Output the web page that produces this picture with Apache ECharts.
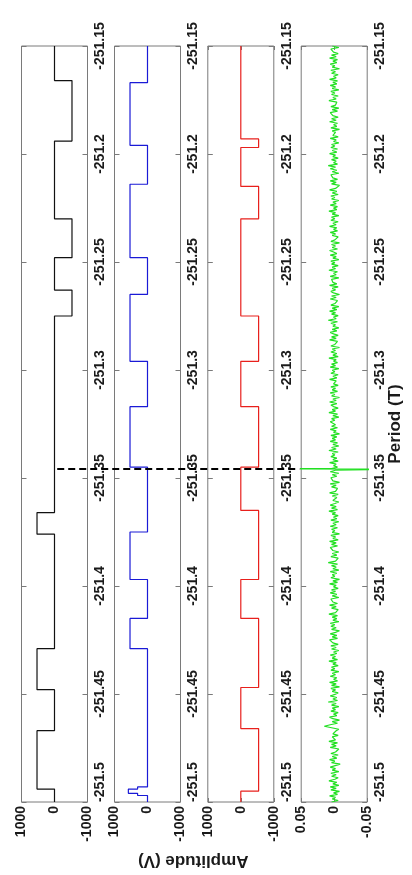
<!DOCTYPE html>
<html><head><meta charset="utf-8">
<script src="https://cdn.jsdelivr.net/npm/echarts@6/dist/echarts.min.js"></script>
<style>html,body{margin:0;padding:0;background:#fff}#c{width:412px;height:875px}</style>
</head><body><div id="c"></div>
<script>
// ---- data (Period in T, amplitude in V) ----
// step traces: level changes at these periods, amplitude held between them
const blackBreaks = [-251.15,-251.166,-251.194,-251.230,-251.248,-251.263,-251.275,-251.366,-251.376,-251.429,-251.448,-251.467,-251.494,-251.5];
const blackLevels = [0,-530,0,-530,0,-530,0,530,0,530,0,530,0];

const blueBreaks = [-251.15,-251.167,-251.196,-251.214,-251.248,-251.265,-251.296,-251.317,-251.345,-251.375,-251.397,-251.415,-251.429,-251.493,-251.494,-251.496,-251.497,-251.5];
const blueLevels = [0,530,0,530,0,530,0,530,0,530,0,530,0,300,580,300,0];

const redBreaks = [-251.15,-251.193,-251.197,-251.215,-251.230,-251.275,-251.296,-251.317,-251.345,-251.365,-251.397,-251.415,-251.447,-251.466,-251.495,-251.5];
const redLevels = [0,-540,0,-540,0,-540,0,-540,0,-540,0,-540,0,-540,0];

// difference trace (V), sampled evenly from -251.5 to -251.15
const greenNoise = [
0.004,-0.006,0.003,-0.002,0.007,-0.005,0.001,-0.008,0.005,-0.003,0.006,-0.007,0.002,-0.004,0.008,-0.001,-0.006,0.004,-0.003,0.005,-0.007,0.003,-0.002,0.006,0.004,
-0.009,0.004,-0.001,0.007,-0.004,0.003,-0.006,0.005,-0.002,0.001,-0.007,0.006,-0.003,0.004,-0.005,0.008,-0.002,-0.004,0.003,-0.006,0.002,0.005,-0.003,-0.007,0.004,
0.015,0.006,-0.005,0.003,-0.008,0.002,0.007,-0.004,0.001,-0.006,0.005,-0.002,0.003,-0.007,0.004,-0.003,0.009,-0.005,0.002,-0.004,0.006,-0.001,-0.006,0.003,-0.002,
0.005,-0.008,0.004,-0.003,0.007,-0.005,0.001,-0.004,0.006,-0.002,0.003,-0.007,0.005,-0.001,0.004,-0.006,0.002,-0.003,0.008,-0.005,0.003,-0.002,0.006,-0.004,0.001,
-0.007,0.004,-0.003,0.005,-0.006,0.002,-0.001,0.007,-0.005,0.003,-0.004,0.006,-0.002,-0.008,0.004,-0.003,0.005,-0.001,0.006,-0.007,0.002,-0.004,0.003,-0.005,0.008,
-0.002,0.001,-0.006,0.004,-0.003,0.007,-0.005,0.002,-0.001,0.005,-0.007,0.003,-0.004,0.006,-0.002,0.004,-0.006,0.001,-0.003,0.007,-0.005,0.002,-0.008,0.005,-0.001,
0.003,-0.004,0.006,-0.007,0.002,-0.003,0.004,-0.005,0.009,-0.002,0.001,-0.006,0.005,-0.004,0.003,-0.007,0.002,-0.001,0.006,-0.005,0.004,-0.003,0.007,-0.006,0.002,
-0.002,0.005,-0.008,0.003,-0.001,0.004,-0.005,0.006,-0.003,0.002,-0.007,0.005,-0.004,0.001,-0.006,0.003,-0.002,0.008,-0.005,0.004,-0.003,0.006,-0.001,-0.007,0.002,
0.005,-0.004,0.003,-0.006,0.007,-0.002,0.001,-0.005,0.004,-0.003,0.006,-0.008,0.002,-0.001,0.005,-0.004,0.003,-0.007,0.006,-0.002,0.004,-0.005,0.001,-0.003,0.007,
-0.006,0.002,-0.004,0.005,-0.001,0.003,-0.006,0.008,-0.003,0.004,-0.007,0.002,-0.005,0.006,-0.002,0.003,-0.004,0.005,-0.008,0.001,-0.003,0.006,-0.005,0.004,-0.002,
-0.003,0.006,-0.001,0.004,-0.007,0.002,-0.005,0.008,-0.002,0.003,-0.006,0.001,0.005,-0.004,0.007,-0.003,0.002,-0.008,0.004,-0.001,0.006,-0.005,0.003,-0.002,0.005,
-0.006,0.001,0.004,-0.003,0.007,-0.004,0.002,-0.006,0.005,-0.001,0.003,-0.007,0.006,-0.002,0.004,-0.005,0.001,-0.003,0.008,-0.006,0.002,-0.004,0.005,-0.002,0.003,
-0.008,0.005,-0.001,0.002,-0.005,0.007,-0.003,0.004,-0.006,0.001,0.006,-0.004,0.003,-0.007,0.002,-0.002,0.005,-0.005,0.009,-0.003,0.001,-0.006,0.004,-0.002,0.007,
-0.004,0.003,-0.007,0.005,-0.001,0.002,-0.005,0.006,-0.003,0.004,-0.008,0.001,0.005,-0.002,0.003,-0.006,0.007,-0.004,0.002,-0.001,0.004,-0.007,0.006,-0.003,0.001,
-0.005,0.008,-0.002,0.003,-0.006,0.004,-0.001,0.005,-0.007,0.002,-0.003,0.006,-0.004,0.001,0.007,-0.005,0.003,-0.002,0.004,-0.008,0.005,-0.001,0.002,-0.006,0.003,
-0.002,0.006,-0.005,0.001,-0.004,0.007,-0.003,0.002,-0.006,0.005,-0.001,0.004,-0.007,0.003,-0.002,0.008,-0.004,0.001,-0.005,0.006,-0.003,0.002,-0.007,0.004,-0.001,
0.005,-0.006,0.003,-0.004,0.007,-0.002,0.001,-0.008,0.004,-0.003,0.006,-0.005,0.002,-0.001,0.005,-0.007,0.003,-0.004,0.006,-0.002,0.009,-0.005,0.001,-0.003,0.004,
-0.006,0.002,-0.002,0.007,-0.004,0.003,-0.005,0.005,-0.001,0.004,-0.007,0.001,-0.003,0.006,-0.006,0.002,0.004,-0.002,0.003,-0.008,0.005,-0.004,0.001,-0.005,0.007,
-0.003,0.004,-0.006,0.002,-0.001,0.006,-0.005,0.003,-0.007,0.005,-0.002,0.001,-0.004,0.008,-0.003,0.002,-0.006,0.004,-0.001,0.005,-0.007,0.003,-0.002,0.006,-0.004,
0.002,-0.005,0.007,-0.003,0.001,-0.006,0.004,-0.002,0.005,-0.008,0.003,-0.001,0.006,-0.004,0.002,-0.005,0.007,-0.003,0.004,-0.006,0.001,-0.002,0.005,-0.007,0.003];
const greenSpikePeriod = [-251.3457,-251.3459];
const greenSpikeAmp = [0.09,-0.09];

const markerPeriod = -251.3458;           // dashed marker line
const markerSpan = [0.104, 0.809];        // fraction of the figure width it covers

const periodMin = -251.5, periodMax = -251.15, periodStep = 0.05;
const ampRanges = [[-1000,1000,1000],[-1000,1000,1000],[-1000,1000,1000],[-0.05,0.05,0.05]];
const colors = ['#111111','#1a1ad6','#e8201c','#22e022'];
const xTitle = 'Amplitude (V)';
const yTitle = 'Period (T)';

// ---- build series data ----
function stepData(br, lv){
  const d=[];
  for(let i=0;i<lv.length;i++){ d.push([lv[i],br[i]]); d.push([lv[i],br[i+1]]); }
  return d;
}
const greenData = greenNoise.map((v,i)=>[v, periodMin + i*(periodMax-periodMin)/(greenNoise.length-1)]);
greenSpikePeriod.forEach((p,i)=>greenData.push([greenSpikeAmp[i],p]));
greenData.sort((a,b)=>a[1]-b[1]);
const traces = [stepData(blackBreaks,blackLevels), stepData(blueBreaks,blueLevels), stepData(redBreaks,redLevels), greenData];

// ---- layout ----
const FONT = 'Liberation Sans, Arial, sans-serif';
const lefts = [21.5,114.5,207.8,301.2];
const W = 66, TOP = 46, H = 756;
const axisGray = '#7a7a7a';
const grid = lefts.map(l=>({left:l,width:W,top:TOP,height:H,show:true,borderColor:axisGray,borderWidth:1,backgroundColor:'transparent'}));
grid.push({left:lefts[0],width:lefts[3]+W-lefts[0],top:TOP,height:H,show:false});

const lab = {fontFamily:FONT,fontWeight:'bold',fontSize:14,color:'#1a1a1a'};
const xAxis=[], yAxis=[], series=[];
lefts.forEach((l,i)=>{
  const [mn,mx,iv]=ampRanges[i];
  const base = {type:'value',gridIndex:i,min:mn,max:mx,interval:iv,inverse:true,
    axisLine:{show:false,onZero:false},splitLine:{show:false},
    axisTick:{show:true,inside:true,length:4,lineStyle:{color:axisGray}}};
  xAxis.push(Object.assign({},base,{position:'bottom',
    axisLabel:Object.assign({rotate:90,margin:4,formatter:v=>String(v)},lab)}));
  xAxis.push(Object.assign({},base,{position:'top',axisLabel:{show:false}}));
  const ybase = {type:'value',gridIndex:i,min:periodMin,max:periodMax,interval:periodStep,
    axisLine:{show:false,onZero:false},splitLine:{show:false},
    axisTick:{show:true,inside:true,length:5,lineStyle:{color:axisGray}}};
  yAxis.push(Object.assign({},ybase,{position:'right',
    axisLabel:Object.assign({rotate:90,margin:6,alignMinLabel:'left',formatter:v=>String(Math.round(v*100)/100)},lab)}));
  yAxis.push(Object.assign({},ybase,{position:'left',axisLabel:{show:false}}));
  series.push({type:'line',xAxisIndex:2*i,yAxisIndex:2*i,data:traces[i],symbol:'none',
    lineStyle:{color:colors[i],width:1.2},clip:true,silent:true});
});
// overlay axes for shared titles and the marker line
xAxis.push({type:'value',gridIndex:4,min:0,max:1,position:'bottom',
  axisLine:{show:false,onZero:false},axisTick:{show:false},axisLabel:{show:false},splitLine:{show:false},
  name:xTitle,nameLocation:'middle',nameRotate:180,nameGap:50,
  nameTextStyle:{fontFamily:FONT,fontWeight:'bold',fontSize:17,color:'#1a1a1a'}});
yAxis.push({type:'value',gridIndex:4,min:periodMin,max:periodMax,position:'right',
  axisLine:{show:false,onZero:false},axisTick:{show:false},axisLabel:{show:false},splitLine:{show:false},
  name:yTitle,nameLocation:'middle',nameRotate:90,nameGap:22,
  nameTextStyle:{fontFamily:FONT,fontWeight:'bold',fontSize:17,color:'#1a1a1a'}});
series.push({type:'line',xAxisIndex:8,yAxisIndex:8,symbol:'none',silent:true,z:5,
  data:[[markerSpan[0],markerPeriod],[markerSpan[1],markerPeriod]],
  lineStyle:{color:'#000',width:2,type:[7,4]}});

const chart = echarts.init(document.getElementById('c'),null,{renderer:'canvas'});
chart.setOption({animation:false,backgroundColor:'#fff',grid,xAxis,yAxis,series});
</script>
</body></html>
